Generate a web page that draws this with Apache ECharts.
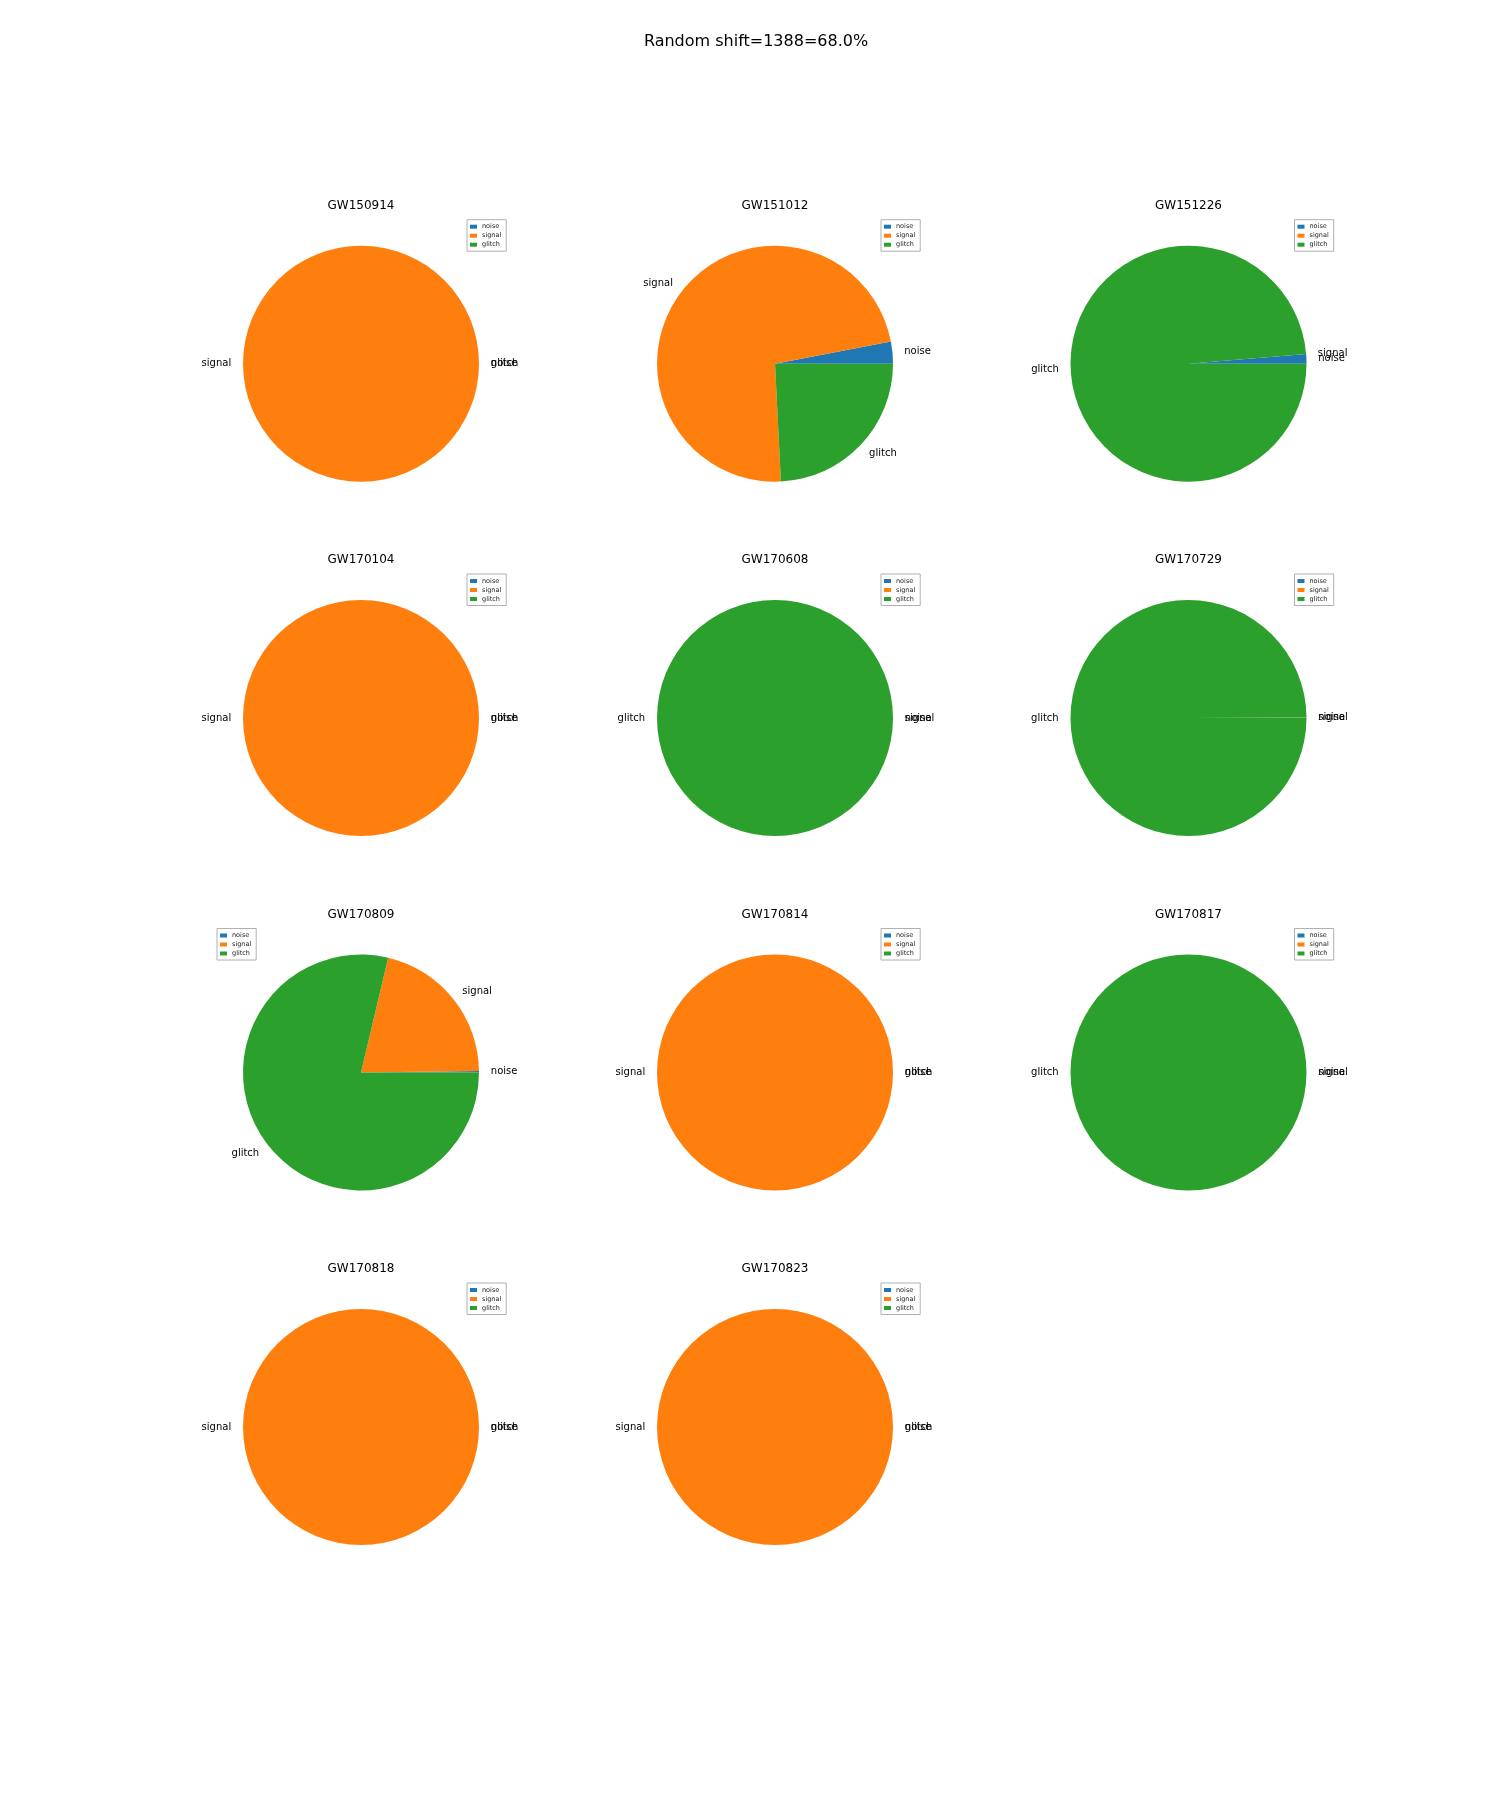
<!DOCTYPE html>
<html>
<head>
<meta charset="utf-8">
<script src="https://cdn.jsdelivr.net/npm/echarts@6/dist/echarts.min.js"></script>
<style>
html,body{margin:0;padding:0;background:#fff;}
#chart{width:1512px;height:1800px;}
</style>
</head>
<body>
<div id="chart"></div>
<script>
const suptitle = 'Random shift=1388=68.0%';
const categories = ['noise', 'signal', 'glitch'];
const events = ['GW150914', 'GW151012', 'GW151226', 'GW170104', 'GW170608', 'GW170729',
                'GW170809', 'GW170814', 'GW170817', 'GW170818', 'GW170823'];
const noiseVals  = [0, 3.0, 1.3, 0, 0, 0.03, 0.2, 0, 0, 0, 0];
const signalVals = [100, 72.8, 0, 100, 0, 0.03, 21.1, 100, 0, 100, 100];
const glitchVals = [0, 24.2, 98.7, 0, 100, 99.94, 78.7, 0, 100, 0, 0];
const legendUpperLeft = ['GW170809'];

const colors = ['#1f77b4', '#ff7f0e', '#2ca02c'];
const colX = [361, 775, 1188.5];
const rowY = [363.7, 718, 1072.5, 1427];
const R = 118;
const FONT = 'DejaVu Sans';

const series = [], titles = [], legends = [];
titles.push({
  text: suptitle, left: 756, top: 42, textAlign: 'center', textVerticalAlign: 'middle', padding: 0,
  textStyle: {fontFamily: FONT, fontSize: 16, fontWeight: 'normal', color: '#000'}
});
events.forEach((ev, i) => {
  const cx = colX[i % 3], cy = rowY[Math.floor(i / 3)];
  const vals = [noiseVals[i], signalVals[i], glitchVals[i]];
  series.push({
    type: 'pie', name: ev, center: [cx, cy], radius: R,
    startAngle: 0, clockwise: false, avoidLabelOverlap: false,
    minShowLabelAngle: 0, stillShowZeroSum: true,
    silent: true, animation: false,
    itemStyle: {borderWidth: 0},
    label: {show: true, position: 'outside', formatter: '{b}', fontFamily: FONT, fontSize: 10,
            color: '#000', distanceToLabelLine: 0, alignTo: 'none'},
    labelLine: {show: false, length: R * 0.1, length2: 0},
    labelLayout: {hideOverlap: false, moveOverlap: null},
    emphasis: {disabled: true},
    data: categories.map((c, k) => ({name: c, value: vals[k], itemStyle: {color: colors[k]}}))
  });
  titles.push({
    text: ev, left: cx, top: cy - 158, textAlign: 'center', textVerticalAlign: 'middle', padding: 0,
    textStyle: {fontFamily: FONT, fontSize: 12, fontWeight: 'normal', color: '#000'}
  });
  const ul = legendUpperLeft.includes(ev);
  legends.push({
    data: categories, orient: 'vertical',
    left: ul ? cx - 144 : cx + 106, top: cy - 144,
    padding: [3, 5, 2.5, 3], itemGap: 1, itemWidth: 7, itemHeight: 4,
    icon: 'rect', borderColor: '#b0b0b0', borderWidth: 1, borderRadius: 0,
    selectedMode: false, animation: false,
    textStyle: {fontFamily: FONT, fontSize: 6.5, color: '#222', lineHeight: 8, padding: 0}
  });
});

const chart = echarts.init(document.getElementById('chart'), null, {renderer: 'canvas'});
chart.setOption({
  backgroundColor: '#fff',
  animation: false,
  color: colors,
  title: titles,
  legend: legends,
  series: series
});
</script>
</body>
</html>
